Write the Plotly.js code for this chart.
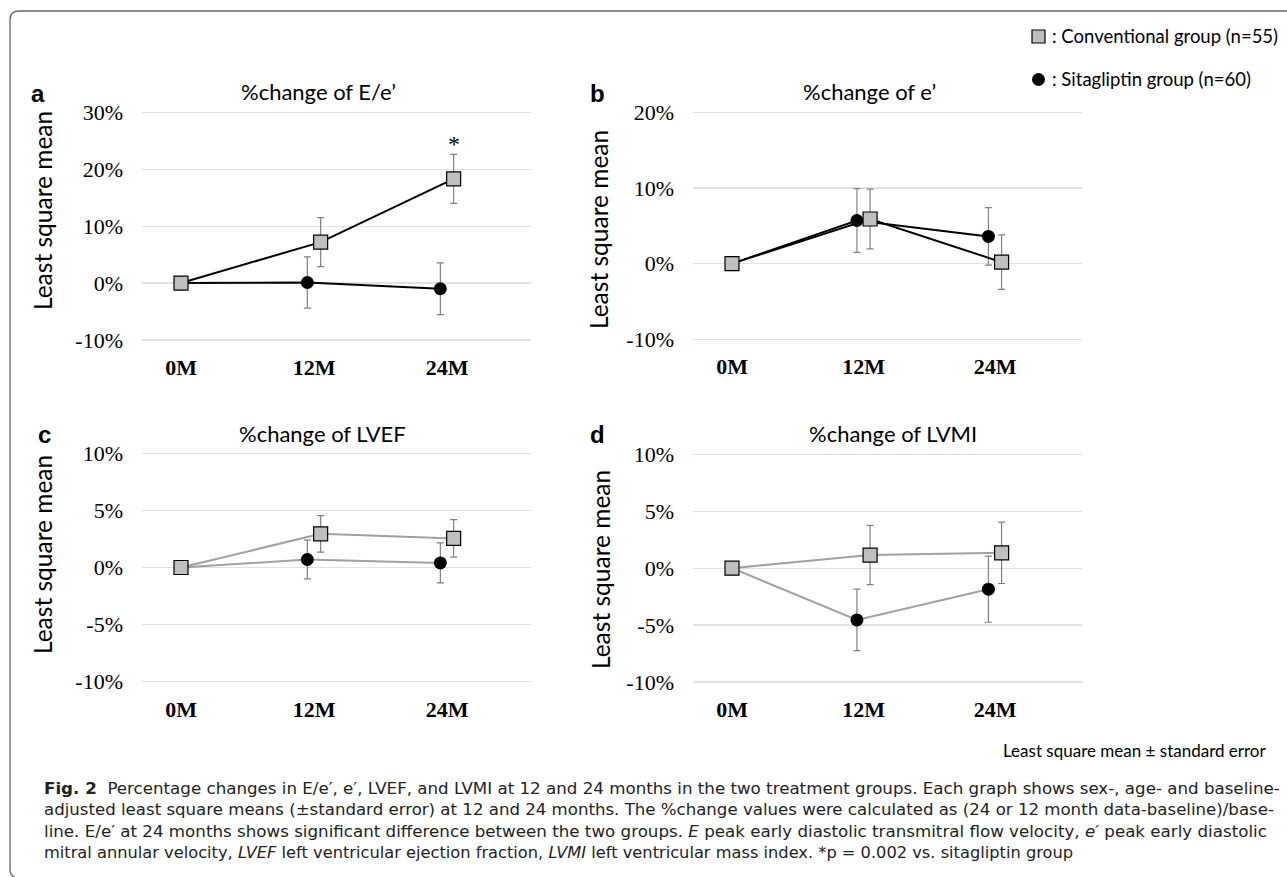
<!DOCTYPE html>
<html>
<head>
<meta charset="utf-8">
<script src="https://cdn.plot.ly/plotly-3.0.1.min.js"></script>
<style>
html,body{margin:0;padding:0;background:#fff;}
#chart{width:1287px;height:877px;}
</style>
</head>
<body>
<div id="chart"></div>
<script>
// ---------- data ----------
const months = [0, 12, 24];
const monthLabels = ['0M', '12M', '24M'];
const groupNames = ['Conventional group (n=55)', 'Sitagliptin group (n=60)'];

const eeConv = [0, 7.2, 18.3];
const eeConvErr = [0, 4.3, 4.3];
const eeSita = [0, 0.1, -1.0];
const eeSitaErr = [0, 4.5, 4.55];

const ePrimeConv = [0, 5.9, 0.2];
const ePrimeConvErr = [0, 3.95, 3.6];
const ePrimeSita = [0, 5.7, 3.6];
const ePrimeSitaErr = [0, 4.2, 3.8];

const lvefConv = [0, 2.95, 2.55];
const lvefConvErr = [0, 1.6, 1.65];
const lvefSita = [0, 0.7, 0.4];
const lvefSitaErr = [0, 1.7, 1.75];

const lvmiConv = [0, 1.15, 1.35];
const lvmiConvErr = [0, 2.6, 2.7];
const lvmiSita = [0, -4.55, -1.85];
const lvmiSitaErr = [0, 2.7, 2.9];

const panelTitles = ['%change of E/e\u2019', '%change of e\u2019', '%change of LVEF', '%change of LVMI'];
const panelLetters = ['a', 'b', 'c', 'd'];
const yTicks = [[-10, 0, 10, 20, 30], [-10, 0, 10, 20], [-10, -5, 0, 5, 10], [-10, -5, 0, 5, 10]];
const noteText = 'Least square mean \u00b1 standard error';
const captionLines = [
  '<b>Fig. 2</b>\u00a0\u00a0Percentage changes in E/e\u2032, e\u2032, LVEF, and LVMI at 12 and 24 months in the two treatment groups. Each graph shows sex-, age- and baseline-',
  'adjusted least square means (\u00b1standard error) at 12 and 24 months. The %change values were calculated as (24 or 12 month data-baseline)/base-',
  'line. E/e\u2032 at 24 months shows significant difference between the two groups. <i>E</i> peak early diastolic transmitral flow velocity, <i>e\u2032</i> peak early diastolic',
  'mitral annular velocity, <i>LVEF</i> left ventricular ejection fraction, <i>LVMI</i> left ventricular mass index. *p = 0.002 vs. sitagliptin group'
];

// ---------- layout geometry (pixels) ----------
const W = 1287, H = 877;
const px = x => x / W;
const py = y => 1 - y / H;

const panels = [
  {x0: 142, x1: 531, y0: 112.3, y1: 340, m0: 181, m24: 447, ymin: -10, ymax: 30,
   conv: eeConv, convErr: eeConvErr, sita: eeSita, sitaErr: eeSitaErr, line: '#000000',
   titleX: 318, titleY: 92, ytX: 42, ytY: 211, letX: 38, letY: 93},
  {x0: 693, x1: 1082, y0: 112.3, y1: 339.3, m0: 732, m24: 995, ymin: -10, ymax: 20,
   conv: ePrimeConv, convErr: ePrimeConvErr, sita: ePrimeSita, sitaErr: ePrimeSitaErr, line: '#000000',
   titleX: 869, titleY: 92, ytX: 598, ytY: 230, letX: 597, letY: 93},
  {x0: 142, x1: 531, y0: 453.3, y1: 681.7, m0: 181, m24: 447, ymin: -10, ymax: 10,
   conv: lvefConv, convErr: lvefConvErr, sita: lvefSita, sitaErr: lvefSitaErr, line: '#a0a0a0',
   titleX: 322, titleY: 433, ytX: 42, ytY: 555, letX: 44, letY: 435},
  {x0: 693, x1: 1082, y0: 454.3, y1: 682, m0: 732, m24: 995, ymin: -10, ymax: 10,
   conv: lvmiConv, convErr: lvmiConvErr, sita: lvmiSita, sitaErr: lvmiSitaErr, line: '#a0a0a0',
   titleX: 893, titleY: 433, ytX: 600, ytY: 570, letX: 597, letY: 435}
];

const OFFSET = 0.6; // horizontal separation of the two groups (in months)
const shift = (arr, d) => arr.map((m, i) => (i === 0 ? m : m + d));
const PAD = 3; // px of padding so edge gridlines are drawn

const traces = [];
const layout = {
  width: W, height: H,
  margin: {l: 0, r: 0, t: 0, b: 0},
  paper_bgcolor: '#ffffff', plot_bgcolor: '#ffffff',
  showlegend: false,
  annotations: [], shapes: []
};

panels.forEach((p, k) => {
  const n = k + 1;
  const xa = n === 1 ? 'x' : 'x' + n;
  const ya = n === 1 ? 'y' : 'y' + n;
  const pxPerUnit = (p.m24 - p.m0) / 24;
  const xr = [-(p.m0 - p.x0) / pxPerUnit, 24 + (p.x1 - p.m24) / pxPerUnit];
  const yPer = (p.y1 - p.y0) / (p.ymax - p.ymin);
  const yr = [p.ymin - PAD / yPer, p.ymax + PAD / yPer];

  layout['xaxis' + (n === 1 ? '' : n)] = {
    domain: [px(p.x0), px(p.x1)], range: xr, anchor: ya,
    showgrid: false, zeroline: false, showline: false,
    tickvals: months, ticktext: monthLabels, ticks: '',
    ticklabelstandoff: 9,
    tickfont: {family: 'Liberation Serif', size: 22, color: '#000', weight: 'bold'}
  };
  layout['yaxis' + (n === 1 ? '' : n)] = {
    domain: [py(p.y1 + PAD), py(p.y0 - PAD)], range: yr, anchor: xa,
    showgrid: true, gridcolor: '#e1e1e1', gridwidth: 1.3, zeroline: false, showline: false,
    tickvals: yTicks[k], ticktext: yTicks[k].map(v => v + '%'), ticks: '',
    ticklabelstandoff: 18,
    tickfont: {family: 'Liberation Serif', size: 22, color: '#000'}
  };

  const errStyle = {type: 'data', visible: true, color: '#808080', thickness: 1.2, width: 3.5};
  traces.push({
    type: 'scatter', mode: 'lines+markers', xaxis: xa, yaxis: ya, name: groupNames[1],
    x: shift(months, -OFFSET), y: p.sita,
    error_y: Object.assign({array: p.sitaErr}, errStyle),
    line: {color: p.line, width: 2},
    marker: {symbol: 'circle', size: 13, color: '#000000', line: {width: 0}},
    cliponaxis: false
  });
  traces.push({
    type: 'scatter', mode: 'lines+markers', xaxis: xa, yaxis: ya, name: groupNames[0],
    x: shift(months, OFFSET), y: p.conv,
    error_y: Object.assign({array: p.convErr}, errStyle),
    line: {color: p.line, width: 2},
    marker: {symbol: 'square', size: 14, color: '#bfbfbf', line: {width: 1.2, color: '#000000'}},
    cliponaxis: false
  });

  layout.annotations.push({
    xref: 'paper', yref: 'paper', x: px(p.titleX), y: py(p.titleY),
    xanchor: 'center', yanchor: 'middle', showarrow: false,
    text: panelTitles[k], font: {family: 'Lato', size: 22, color: '#000'}
  });
  layout.annotations.push({
    xref: 'paper', yref: 'paper', x: px(p.ytX), y: py(p.ytY),
    xanchor: 'center', yanchor: 'middle', showarrow: false, textangle: -90,
    text: 'Least square mean', font: {family: 'Lato', size: 24.5, color: '#000'}
  });
  layout.annotations.push({
    xref: 'paper', yref: 'paper', x: px(p.letX), y: py(p.letY),
    xanchor: 'center', yanchor: 'middle', showarrow: false,
    text: '<b>' + panelLetters[k] + '</b>', font: {family: 'Liberation Sans', size: 24, color: '#000'}
  });
});

// significance asterisk above the 24M conventional E/e' error bar
layout.annotations.push({
  xref: 'x', yref: 'y', x: months[2] + OFFSET, y: eeConv[2] + eeConvErr[2],
  yanchor: 'bottom', xanchor: 'center', yshift: -5, showarrow: false,
  text: '*', font: {family: 'Liberation Serif', size: 24, color: '#000000'}
});

// legend (drawn manually)
const legFont = {family: 'Lato', size: 18.5, color: '#000'};
layout.shapes.push({type: 'rect', xref: 'paper', yref: 'paper',
  x0: px(1032), x1: px(1045), y0: py(43), y1: py(30),
  fillcolor: '#bfbfbf', line: {color: '#000', width: 1.2}});
layout.shapes.push({type: 'circle', xref: 'paper', yref: 'paper',
  x0: px(1032), x1: px(1045), y0: py(86), y1: py(73),
  fillcolor: '#000', line: {color: '#000', width: 0}});
layout.annotations.push({xref: 'paper', yref: 'paper', x: px(1050), y: py(36),
  xanchor: 'left', yanchor: 'middle', showarrow: false,
  text: ': ' + groupNames[0], font: legFont});
layout.annotations.push({xref: 'paper', yref: 'paper', x: px(1050), y: py(79.5),
  xanchor: 'left', yanchor: 'middle', showarrow: false,
  text: ': ' + groupNames[1], font: legFont});

// note
layout.annotations.push({xref: 'paper', yref: 'paper', x: px(1269), y: py(750),
  xanchor: 'right', yanchor: 'middle', showarrow: false,
  text: noteText, font: {family: 'Lato', size: 17, color: '#000'}});

// caption: one text block, each line sized to the justified width of the reference
const capFamily = 'DejaVu Sans';
const capBase = 16.4;            // sets the line spacing (1.3 em)
const capW = [1228, 1230, 1224, 1028];
const ctx = document.createElement('canvas').getContext('2d');
function fitSize(html, targetW) {
  const plain = html.replace(/<[^>]+>/g, '');
  ctx.font = '20px "' + capFamily + '"';
  const w = ctx.measureText(plain).width;
  return Math.max(12, Math.min(18, 20 * targetW / w));
}
const capText = captionLines.map((t, i) =>
  '<span style="font-size:' + fitSize(t, capW[i]).toFixed(2) + 'px">' + t + '</span>'
).join('<br>');
layout.annotations.push({xref: 'paper', yref: 'paper', x: px(42), y: py(820.5),
  xanchor: 'left', yanchor: 'middle', showarrow: false, align: 'left',
  text: capText, font: {family: capFamily, size: capBase, color: '#222'}});

// outer rounded frame (open on the right)
const r = 9;
const fx0 = 10, fy0 = 11, fy1 = 878;
layout.shapes.push({type: 'path', xref: 'paper', yref: 'paper',
  path: `M ${px(W + 5)} ${py(fy0)} L ${px(fx0 + r)} ${py(fy0)} Q ${px(fx0)} ${py(fy0)} ${px(fx0)} ${py(fy0 + r)} L ${px(fx0)} ${py(fy1 - r)} Q ${px(fx0)} ${py(fy1)} ${px(fx0 + r)} ${py(fy1)}`,
  line: {color: '#666666', width: 1.3}});

Plotly.newPlot('chart', traces, layout, {staticPlot: true, displayModeBar: false});
</script>
</body>
</html>
